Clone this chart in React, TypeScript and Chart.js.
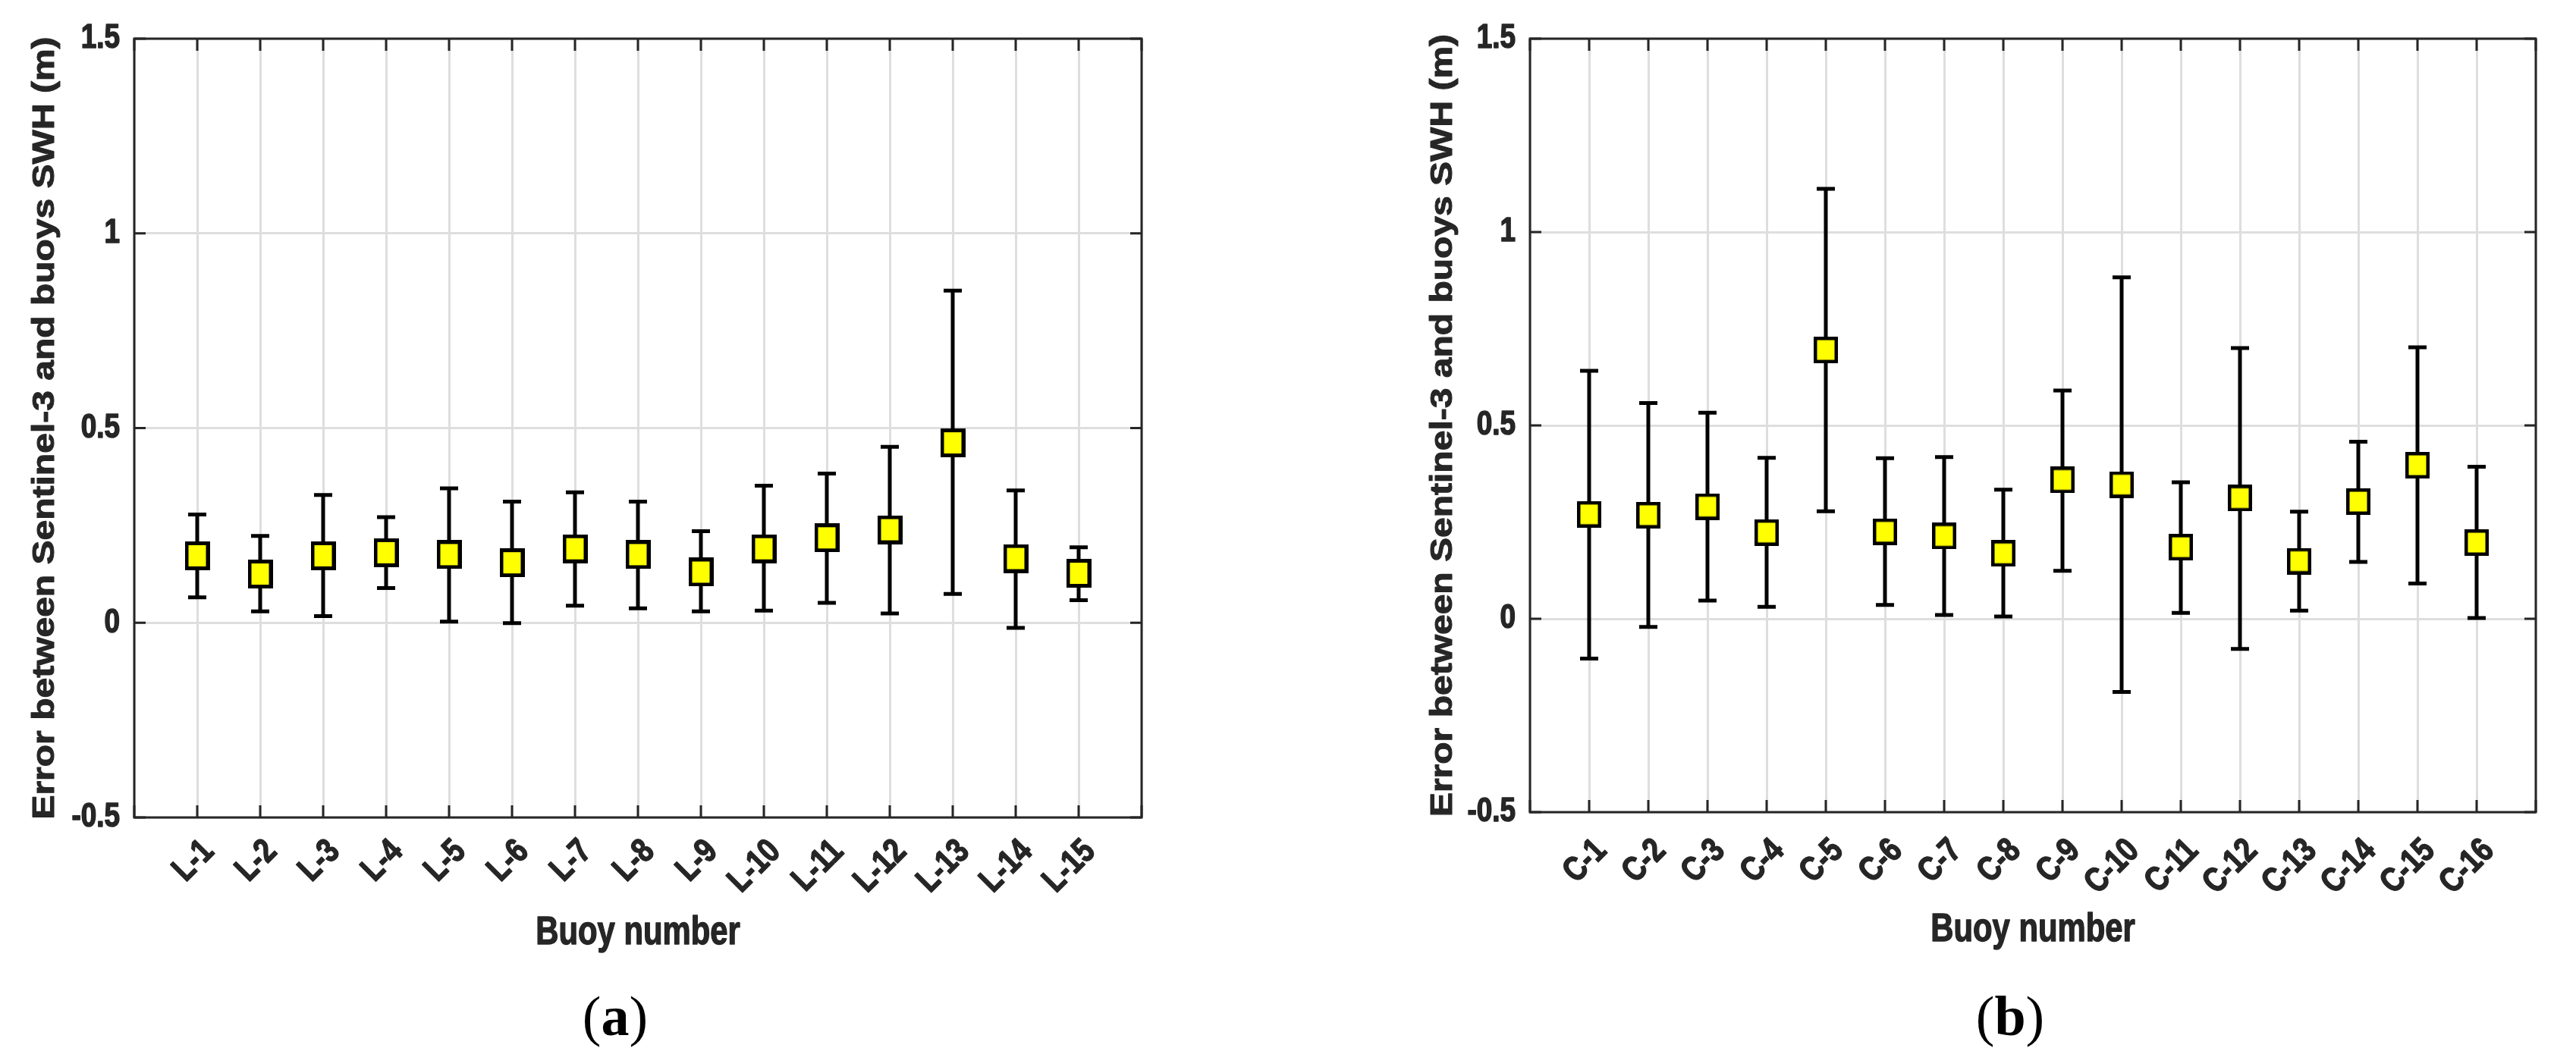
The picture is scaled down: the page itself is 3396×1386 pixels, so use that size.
import React, { useEffect, useRef } from 'react';
import { Chart, registerables } from 'chart.js';

Chart.register(...registerables);

// ---------------- Data ----------------
const buoysA = ['L-1', 'L-2', 'L-3', 'L-4', 'L-5', 'L-6', 'L-7', 'L-8', 'L-9', 'L-10', 'L-11', 'L-12', 'L-13', 'L-14', 'L-15'];
const meanA = [0.172, 0.125, 0.172, 0.180, 0.175, 0.154, 0.190, 0.175, 0.130, 0.190, 0.218, 0.239, 0.462, 0.165, 0.127];
const lowA = [0.065, 0.029, 0.017, 0.089, 0.003, -0.001, 0.044, 0.037, 0.029, 0.031, 0.051, 0.024, 0.074, -0.013, 0.058];
const highA = [0.278, 0.223, 0.328, 0.271, 0.345, 0.311, 0.335, 0.311, 0.235, 0.352, 0.383, 0.452, 0.853, 0.340, 0.194];

const buoysB = ['C-1', 'C-2', 'C-3', 'C-4', 'C-5', 'C-6', 'C-7', 'C-8', 'C-9', 'C-10', 'C-11', 'C-12', 'C-13', 'C-14', 'C-15', 'C-16'];
const meanB = [0.270, 0.268, 0.290, 0.223, 0.695, 0.225, 0.214, 0.169, 0.359, 0.347, 0.185, 0.312, 0.149, 0.303, 0.397, 0.197];
const lowB = [-0.103, -0.021, 0.047, 0.031, 0.278, 0.036, 0.010, 0.006, 0.124, -0.189, 0.015, -0.078, 0.021, 0.147, 0.091, 0.002];
const highB = [0.641, 0.558, 0.533, 0.416, 1.112, 0.415, 0.418, 0.334, 0.590, 0.883, 0.353, 0.700, 0.277, 0.458, 0.702, 0.393];

const yTickValues = [-0.5, 0, 0.5, 1, 1.5];
const yTitle = 'Error between Sentinel-3 and buoys SWH (m)';
const xTitle = 'Buoy number';
const panelLetters = ['a', 'b'];

// ---------------- Styles ----------------
const TEXT = '#262626';
const GRID = '#dedede';
const SANS = "'Liberation Sans', Arial, sans-serif";
const SX = 0.82; // horizontal condensation of the figure's text
const H = 1386;

type Panel = {
  labels: string[];
  mean: number[];
  low: number[];
  high: number[];
  left: number;
  width: number;
  padTop: number;
  padRight: number;
  yAxisW: number;
  xAxisH: number;
  yTitleX: number;
  xTitleY: number;
  xLabDx: number;
  xLabDy: number;
  markerW: number;
  markerH: number;
  markerB: number;
};

const panelA: Panel = {
  labels: buoysA, mean: meanA, low: lowA, high: highA,
  left: 0, width: 1700, padTop: 51, padRight: 195, yAxisW: 177, xAxisH: 308,
  yTitleX: 60, xTitleY: 1231, xLabDx: 15, xLabDy: 38, markerW: 33, markerH: 38, markerB: 5,
};
const panelB: Panel = {
  labels: buoysB, mean: meanB, low: lowB, high: highB,
  left: 1700, width: 1696, padTop: 51, padRight: 53, yAxisW: 317, xAxisH: 315,
  yTitleX: 203, xTitleY: 1227, xLabDx: 16, xLabDy: 44, markerW: 32, markerH: 35, markerB: 4.5,
};

function makeMarker(w: number, h: number, b: number) {
  const c = document.createElement('canvas');
  c.width = w;
  c.height = h;
  const g = c.getContext('2d')!;
  g.fillStyle = '#000000';
  g.fillRect(0, 0, w, h);
  g.fillStyle = '#ffff00';
  g.fillRect(b, b, w - 2 * b, h - 2 * b);
  return c;
}

function heavyText(ctx: CanvasRenderingContext2D, s: string, w: number) {
  ctx.fillText(s, 0, 0);
  ctx.lineWidth = w;
  ctx.strokeText(s, 0, 0);
}

function framePlugin(p: Panel) {
  return {
    id: 'frameErr',
    beforeDatasetsDraw(chart: any) {
      const { ctx, chartArea: a } = chart;
      const x = chart.scales.x;
      const y = chart.scales.y;
      ctx.save();
      ctx.lineCap = 'butt';
      // inward tick marks and box
      ctx.strokeStyle = TEXT;
      ctx.lineWidth = 3;
      ctx.beginPath();
      for (const t of x.ticks) {
        const px = x.getPixelForValue(t.value);
        ctx.moveTo(px, a.bottom);
        ctx.lineTo(px, a.bottom - 16);
        ctx.moveTo(px, a.top);
        ctx.lineTo(px, a.top + 16);
      }
      for (const t of y.ticks) {
        const py = y.getPixelForValue(t.value);
        ctx.moveTo(a.left, py);
        ctx.lineTo(a.left + 15, py);
        ctx.moveTo(a.right, py);
        ctx.lineTo(a.right - 15, py);
      }
      ctx.stroke();
      ctx.strokeRect(a.left, a.top, a.right - a.left, a.bottom - a.top);
      // error bars
      ctx.strokeStyle = '#000000';
      ctx.lineWidth = 5;
      ctx.beginPath();
      p.mean.forEach((_, i) => {
        const px = x.getPixelForValue(i + 1);
        const yl = y.getPixelForValue(p.low[i]);
        const yh = y.getPixelForValue(p.high[i]);
        ctx.moveTo(px, yl);
        ctx.lineTo(px, yh);
        ctx.moveTo(px - 12, yl);
        ctx.lineTo(px + 12, yl);
        ctx.moveTo(px - 12, yh);
        ctx.lineTo(px + 12, yh);
      });
      ctx.stroke();
      ctx.restore();
    },
    afterDraw(chart: any) {
      const { ctx, chartArea: a } = chart;
      const x = chart.scales.x;
      const y = chart.scales.y;
      ctx.save();
      ctx.fillStyle = TEXT;
      ctx.strokeStyle = TEXT;
      ctx.lineJoin = 'round';
      ctx.font = `bold 45px ${SANS}`;
      ctx.textAlign = 'right';
      ctx.textBaseline = 'middle';
      // y tick labels
      for (const t of y.ticks) {
        const py = y.getPixelForValue(t.value);
        ctx.save();
        ctx.translate(a.left - 19, py);
        ctx.scale(SX, 1);
        heavyText(ctx, String(t.value), 1.6);
        ctx.restore();
      }
      // x tick labels (rotated 45 degrees)
      p.labels.forEach((lab, i) => {
        const px = x.getPixelForValue(i + 1);
        ctx.save();
        ctx.translate(px + p.xLabDx, a.bottom + p.xLabDy);
        ctx.rotate(-Math.PI / 4);
        ctx.scale(SX, 1);
        heavyText(ctx, lab, 1.6);
        ctx.restore();
      });
      // x axis title
      ctx.font = `bold 51px ${SANS}`;
      ctx.textAlign = 'center';
      ctx.save();
      ctx.translate((a.left + a.right) / 2, p.xTitleY);
      ctx.scale(SX, 1);
      heavyText(ctx, xTitle, 1.4);
      ctx.restore();
      // y axis title (vertical)
      ctx.font = `bold 48px ${SANS}`;
      ctx.save();
      ctx.translate(p.yTitleX, (a.top + a.bottom) / 2);
      ctx.rotate(-Math.PI / 2);
      ctx.scale(1, 0.84);
      heavyText(ctx, yTitle, 1.2);
      ctx.restore();
      ctx.restore();
    },
  };
}

function PanelChart({ p }: { p: Panel }) {
  const ref = useRef<HTMLCanvasElement | null>(null);
  useEffect(() => {
    if (!ref.current) return;
    const marker = makeMarker(p.markerW, p.markerH, p.markerB);
    const xTickValues = Array.from({ length: p.labels.length + 2 }, (_, i) => i);
    const chart = new Chart(ref.current, {
      type: 'scatter',
      data: {
        datasets: [
          {
            data: p.mean.map((m, i) => ({ x: i + 1, y: m })),
            pointStyle: marker as any,
            pointRadius: 16,
            pointHoverRadius: 16,
            showLine: false,
          },
        ],
      },
      options: {
        animation: false,
        responsive: false,
        maintainAspectRatio: false,
        events: [],
        layout: {
          autoPadding: false,
          padding: { left: 0, top: p.padTop, right: p.padRight, bottom: 0 },
        },
        plugins: {
          legend: { display: false },
          tooltip: { enabled: false },
        },
        scales: {
          x: {
            type: 'linear',
            position: 'bottom',
            min: 0,
            max: p.labels.length + 1,
            afterBuildTicks: (s: any) => {
              s.ticks = xTickValues.map((v) => ({ value: v }));
            },
            afterFit: (s: any) => {
              s.height = p.xAxisH;
            },
            ticks: { display: false },
            grid: { color: GRID, lineWidth: 3, drawTicks: false },
            border: { display: false },
            title: { display: false },
          },
          y: {
            type: 'linear',
            position: 'left',
            min: -0.5,
            max: 1.5,
            afterBuildTicks: (s: any) => {
              s.ticks = yTickValues.map((v) => ({ value: v }));
            },
            afterFit: (s: any) => {
              s.width = p.yAxisW;
            },
            ticks: { display: false },
            grid: { color: GRID, lineWidth: 3, drawTicks: false },
            border: { display: false },
            title: { display: false },
          },
        },
      } as any,
      plugins: [framePlugin(p)],
    });
    return () => chart.destroy();
  }, [p]);
  return (
    <canvas
      ref={ref}
      width={p.width}
      height={H}
      style={{ position: 'absolute', left: p.left, top: 0, width: p.width, height: H }}
    />
  );
}

function PanelLetter({ letter, cx }: { letter: string; cx: number }) {
  return (
    <div
      style={{
        position: 'absolute',
        left: cx - 100,
        top: 1300,
        width: 200,
        textAlign: 'center',
        fontFamily: "'Liberation Serif', 'DejaVu Serif', serif",
        fontSize: 74,
        lineHeight: '80px',
        color: '#000000',
      }}
    >
      (<b>{letter}</b>)
    </div>
  );
}

export default function App() {
  return (
    <div style={{ position: 'absolute', left: 0, top: 0, width: 3396, height: H, background: '#ffffff', overflow: 'hidden' }}>
      <PanelChart p={panelA} />
      <PanelChart p={panelB} />
      <PanelLetter letter={panelLetters[0]} cx={811} />
      <PanelLetter letter={panelLetters[1]} cx={2650} />
    </div>
  );
}
